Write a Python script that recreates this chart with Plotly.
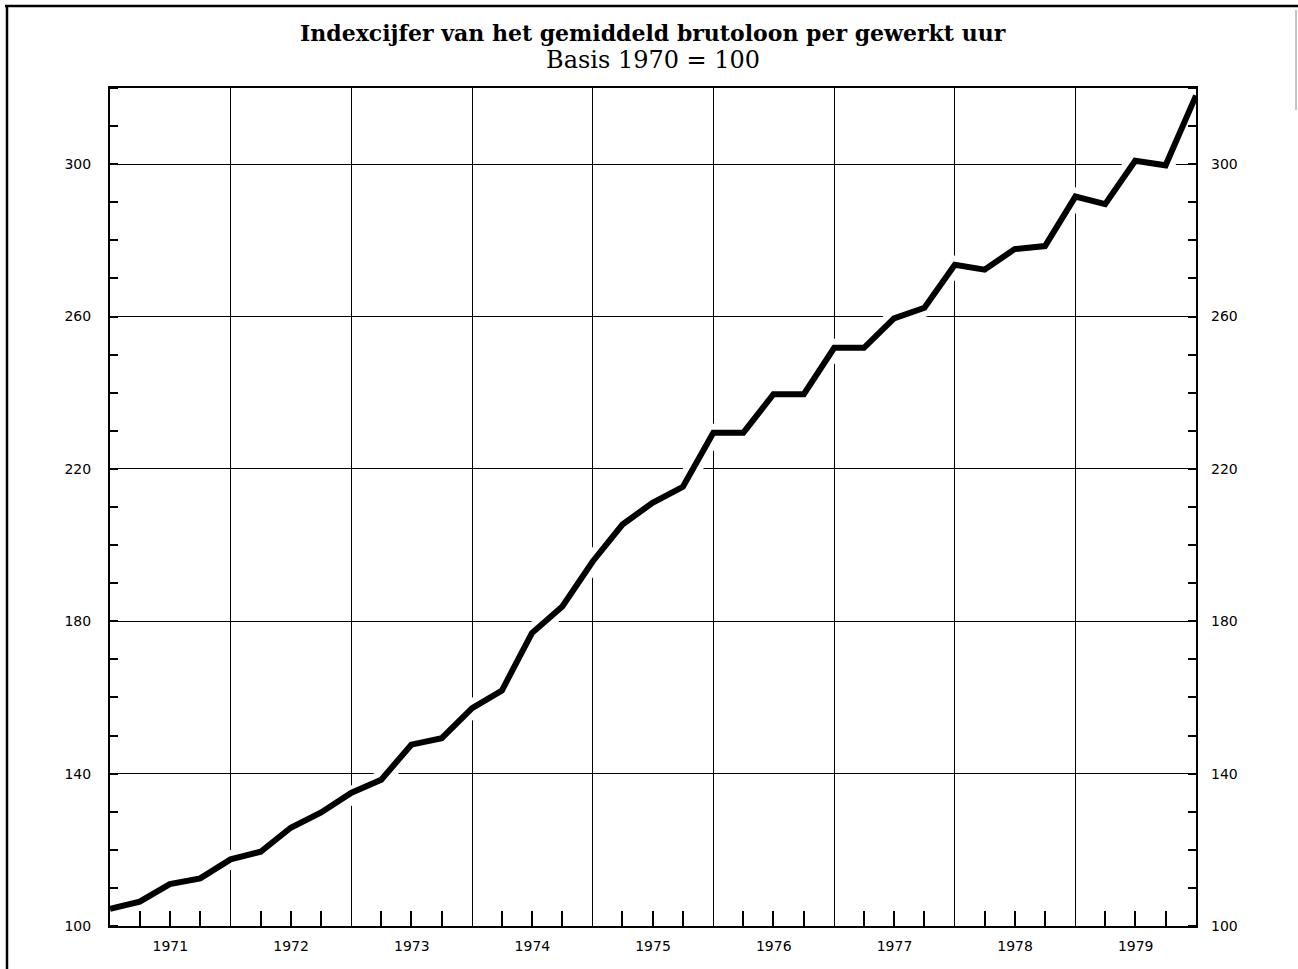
import plotly.graph_objects as go

# Quarterly dates (start of each quarter) from 1971 to 1980
dates = ["%d-%02d-01" % (y, m) for y in range(1971, 1980) for m in (1, 4, 7, 10)] + ["1980-01-01"]
index_values = [
    104.5, 106.4, 111.0, 112.5, 117.5, 119.5, 125.8, 129.8, 135.0, 138.4,
    147.6, 149.3, 157.2, 161.8, 176.9, 183.9, 195.7, 205.4, 211.1, 215.3,
    229.5, 229.5, 239.6, 239.6, 251.8, 251.8, 259.5, 262.3, 273.6, 272.3,
    277.7, 278.5, 291.5, 289.5, 300.9, 299.7, 318.0,
]
y_ticks = [100, 140, 180, 220, 260, 300]

title = "Indexcijfer van het gemiddeld brutoloon per gewerkt uur"
subtitle = "Basis 1970 = 100"

L, R, T, B = 110, 102, 88, 43
W, H = 1298, 969
pw, ph = W - L - R, H - T - B

fig = go.Figure()
# white halo that interrupts the grid around the curve
fig.add_trace(go.Scatter(x=dates, y=index_values, mode="lines",
                         line=dict(color="white", width=18), hoverinfo="skip",
                         showlegend=False))
fig.add_trace(go.Scatter(x=dates, y=index_values, mode="lines",
                         line=dict(color="black", width=6), showlegend=False))
# invisible trace for right axis
fig.add_trace(go.Scatter(x=dates, y=index_values, mode="lines", yaxis="y2",
                         line=dict(color="rgba(0,0,0,0)", width=0),
                         hoverinfo="skip", showlegend=False))

tickfont = dict(family="DejaVu Sans, Arial, sans-serif", size=14, color="black")

fig.update_layout(
    width=W, height=H,
    margin=dict(l=L, r=R, t=T, b=B),
    paper_bgcolor="white", plot_bgcolor="white",
    xaxis=dict(
        type="date", range=["1971-01-01", "1980-01-01"],
        dtick="M12", tick0="1971-01-01", tickformat="%Y",
        ticklabelmode="period", ticks="", tickfont=tickfont,
        showgrid=True, gridcolor="black", gridwidth=1.2,
        showline=True, linecolor="black", linewidth=2, mirror=True,
        ticklabelstandoff=6,
        minor=dict(dtick="M3", tick0="1971-01-01", ticks="inside",
                   ticklen=15, tickwidth=1.5, tickcolor="black", showgrid=False),
        zeroline=False,
    ),
    yaxis=dict(
        range=[100, 320], tickvals=y_ticks, ticks="", tickfont=tickfont,
        showgrid=True, gridcolor="black", gridwidth=1.2,
        showline=True, linecolor="black", linewidth=2, mirror=True,
        ticklabelstandoff=14,
        minor=dict(dtick=10, tick0=100, ticks="inside", ticklen=8,
                   tickwidth=1.5, tickcolor="black", showgrid=False),
        zeroline=False,
    ),
    yaxis2=dict(
        range=[100, 320], tickvals=y_ticks, ticks="", tickfont=tickfont,
        overlaying="y", side="right", showgrid=False,
        showline=False, ticklabelstandoff=14,
        minor=dict(dtick=10, tick0=100, ticks="inside", ticklen=8,
                   tickwidth=1.5, tickcolor="black", showgrid=False),
        zeroline=False,
    ),
    annotations=[
        dict(text="<b>" + title + "</b>", xref="paper", yref="paper",
             x=0.5, y=(H - B - 33) / ph, xanchor="center", yanchor="middle",
             showarrow=False,
             font=dict(family="DejaVu Serif, serif", size=22, color="black")),
        dict(text=subtitle, xref="paper", yref="paper",
             x=0.5, y=(H - B - 60) / ph, xanchor="center", yanchor="middle",
             showarrow=False,
             font=dict(family="DejaVu Serif, serif", size=24, color="black")),
    ],
    shapes=[
        dict(type="line", xref="paper", yref="paper",
             x0=(5 - L) / pw, x1=(W - L) / pw,
             y0=(H - B - 6) / ph, y1=(H - B - 6) / ph,
             line=dict(color="black", width=2.5)),
        dict(type="line", xref="paper", yref="paper",
             x0=(7 - L) / pw, x1=(7 - L) / pw,
             y0=(H - B - 6) / ph, y1=(H - B - H) / ph,
             line=dict(color="black", width=2.5)),
        dict(type="line", xref="paper", yref="paper",
             x0=(1296 - L) / pw, x1=(1296 - L) / pw,
             y0=(H - B - 10) / ph, y1=(H - B - 110) / ph,
             line=dict(color="#888", width=1)),
    ],
)

fig.write_html("out.html",
               config={"displayModeBar": False},
               post_script="document.body.style.margin='0';document.body.style.overflow='hidden';")
